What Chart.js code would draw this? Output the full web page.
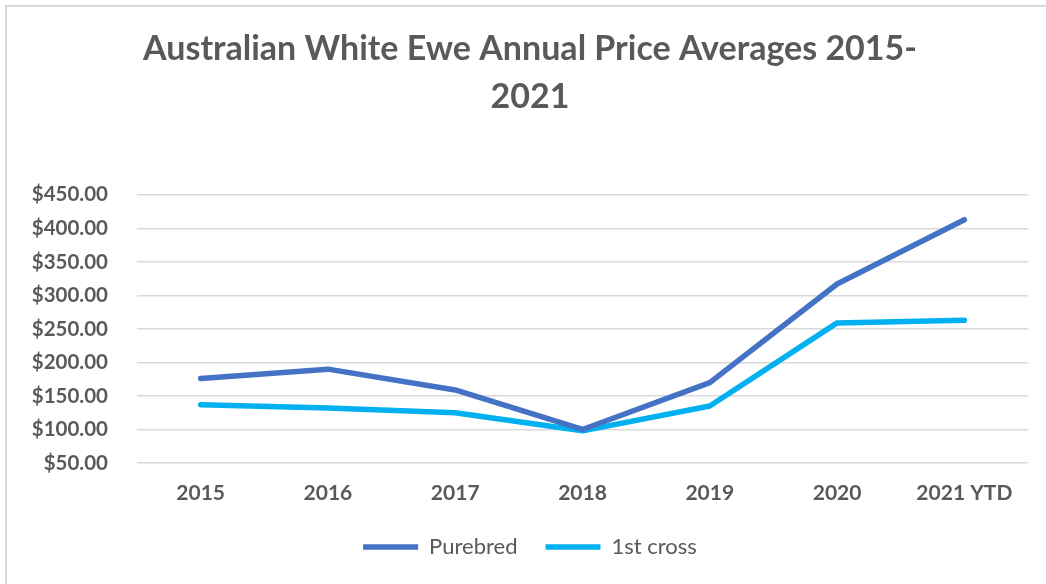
<!DOCTYPE html>
<html>
<head>
<meta charset="utf-8">
<script src="https://cdn.jsdelivr.net/npm/chart.js@4"></script>
<style>
  html, body { margin: 0; padding: 0; background: #ffffff; }
  #wrap { position: relative; width: 1046px; height: 584px; overflow: hidden; }
  #frame { position: absolute; left: 5px; top: 5px; width: 1100px; height: 700px;
           border-left: 2px solid #d9d9d9; border-top: 2px solid #d9d9d9; }
  canvas { position: absolute; left: 0; top: 0; }
</style>
</head>
<body>
<div id="wrap">
  <div id="frame"></div>
  <canvas id="c" width="1046" height="584"></canvas>
</div>
<script>
const titleLines = ['Australian White Ewe Annual Price Averages 2015-', '2021'];
const categories = ['2015', '2016', '2017', '2018', '2019', '2020', '2021 YTD'];
const purebred = [176, 190, 159, 100, 170, 317, 413];
const firstCross = [137, 132, 125, 98, 135, 259, 263];
const seriesNames = ['Purebred', '1st cross'];
const yMin = 50, yMax = 450, yStep = 50;

const FONT = 'Lato, "Open Sans", "Liberation Sans", sans-serif';
const GREY = '#595959';

new Chart(document.getElementById('c'), {
  type: 'line',
  data: {
    labels: categories,
    datasets: [
      { label: seriesNames[0], data: purebred, borderColor: '#4472C4', backgroundColor: '#4472C4',
        borderWidth: 5.5, pointRadius: 0, borderCapStyle: 'round', borderJoinStyle: 'round', tension: 0 },
      { label: seriesNames[1], data: firstCross, borderColor: '#00B0F0', backgroundColor: '#00B0F0',
        borderWidth: 5.5, pointRadius: 0, borderCapStyle: 'round', borderJoinStyle: 'round', tension: 0 }
    ]
  },
  options: {
    responsive: false,
    animation: false,
    devicePixelRatio: 1,
    layout: { padding: { left: 16, right: 2, top: 0, bottom: 16 } },
    plugins: {
      title: {
        display: true,
        text: titleLines,
        color: GREY,
        font: { family: FONT, size: 34, weight: 'bold', lineHeight: 1.41 },
        padding: { top: 25, bottom: 74 }
      },
      legend: {
        display: true,
        position: 'bottom',
        labels: {
          usePointStyle: true,
          pointStyle: 'line',
          pointStyleWidth: 55,
          color: GREY,
          padding: 28,
          font: { family: FONT, size: 22 }
        }
      },
      tooltip: { enabled: false }
    },
    scales: {
      x: {
        offset: true,
        grid: { display: false, drawTicks: false },
        border: { display: false },
        ticks: { color: GREY, padding: 18, font: { family: FONT, size: 21, weight: 'bold' } },
        afterFit: (s) => { s.height = 45; }
      },
      y: {
        min: yMin, max: yMax,
        grid: { color: '#d9d9d9', lineWidth: 1.6, drawTicks: false },
        border: { display: false },
        ticks: {
          stepSize: yStep,
          color: GREY,
          padding: 29,
          font: { family: FONT, size: 20.5, weight: 'bold' },
          callback: (v) => '$' + Number(v).toFixed(2)
        },
        afterFit: (s) => { s.width = 121; }
      },
      yRight: {
        type: 'linear',
        position: 'right',
        display: true,
        grid: { display: false, drawTicks: false },
        border: { display: false },
        ticks: { display: false },
        afterFit: (s) => { s.width = 16; }
      }
    }
  }
});
</script>
</body>
</html>
